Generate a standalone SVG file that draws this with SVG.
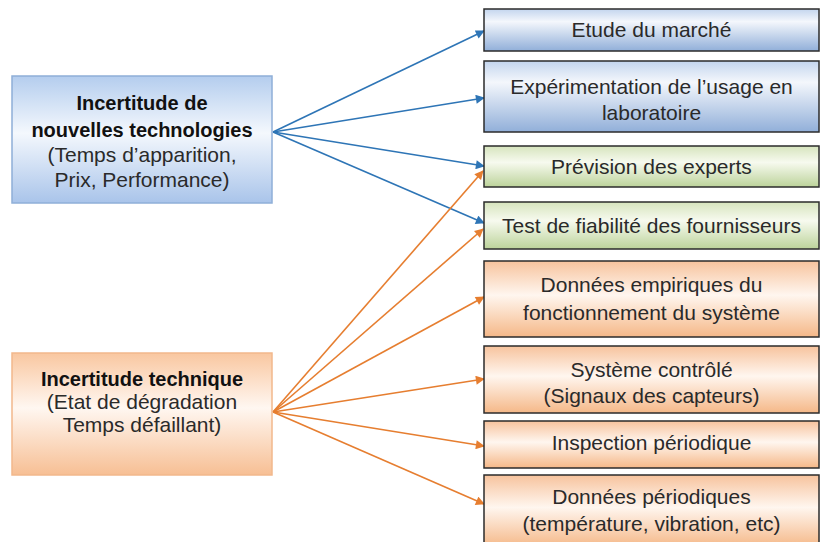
<svg xmlns="http://www.w3.org/2000/svg" width="821" height="542" viewBox="0 0 821 542">
<defs>
<style>
text{font-family:"Liberation Sans",Arial,sans-serif;font-size:21px;fill:#2a2a2a;text-anchor:middle}
.b{font-weight:bold;font-size:20px;fill:#111}
.rb{stroke:#2b2b2b;stroke-width:1.5}
.cb{stroke:#2e75b6;stroke-width:1.6;fill:none}
.co{stroke:#e67e30;stroke-width:1.6;fill:none}
</style>
<linearGradient id="gBlueL" x1="0" y1="0" x2="0" y2="1">
<stop offset="0" stop-color="#b4cdee"/><stop offset="0.45" stop-color="#f4f8fd"/><stop offset="1" stop-color="#a9c4ea"/>
</linearGradient>
<linearGradient id="gOrL" x1="0" y1="0" x2="0" y2="1">
<stop offset="0" stop-color="#f9c7a0"/><stop offset="0.45" stop-color="#fff7f1"/><stop offset="1" stop-color="#f7bf94"/>
</linearGradient>
<linearGradient id="gBlue" x1="0" y1="0" x2="0" y2="1">
<stop offset="0" stop-color="#c3d5ee"/><stop offset="0.3" stop-color="#f4f7fc"/><stop offset="1" stop-color="#91afd9"/>
</linearGradient>
<linearGradient id="gGreen" x1="0" y1="0" x2="0" y2="1">
<stop offset="0" stop-color="#d6e4bd"/><stop offset="0.4" stop-color="#f7faef"/><stop offset="1" stop-color="#bcd39a"/>
</linearGradient>
<linearGradient id="gOr" x1="0" y1="0" x2="0" y2="1">
<stop offset="0" stop-color="#f7c39d"/><stop offset="0.45" stop-color="#fff6ef"/><stop offset="1" stop-color="#f5b888"/>
</linearGradient>
<marker id="aB" viewBox="0 0 10 10" refX="9" refY="5" markerWidth="10" markerHeight="9" orient="auto" markerUnits="userSpaceOnUse">
<path d="M0,0 L10,5 L0,10 z" fill="#2e75b6"/>
</marker>
<marker id="aO" viewBox="0 0 10 10" refX="9" refY="5" markerWidth="10" markerHeight="9" orient="auto" markerUnits="userSpaceOnUse">
<path d="M0,0 L10,5 L0,10 z" fill="#e67e30"/>
</marker>
</defs>
<rect width="821" height="542" fill="#ffffff"/>

<g id="connectors">
<line class="cb" x1="273" y1="132" x2="484" y2="31" marker-end="url(#aB)"/>
<line class="cb" x1="273" y1="132" x2="484" y2="98" marker-end="url(#aB)"/>
<line class="cb" x1="273" y1="132" x2="484" y2="166" marker-end="url(#aB)"/>
<line class="cb" x1="273" y1="132" x2="484" y2="223" marker-end="url(#aB)"/>
<line class="co" x1="273" y1="412" x2="483" y2="171" marker-end="url(#aO)"/>
<line class="co" x1="273" y1="412" x2="483" y2="229" marker-end="url(#aO)"/>
<line class="co" x1="273" y1="412" x2="484" y2="297" marker-end="url(#aO)"/>
<line class="co" x1="273" y1="412" x2="484" y2="379" marker-end="url(#aO)"/>
<line class="co" x1="273" y1="412" x2="484" y2="446" marker-end="url(#aO)"/>
<line class="co" x1="273" y1="412" x2="484" y2="504" marker-end="url(#aO)"/>
</g>

<g id="n-nouvelles">
<rect x="12" y="76" width="260" height="127" fill="url(#gBlueL)" stroke="#8fafd8" stroke-width="1.5"/>
<text class="b" x="142" y="110">Incertitude de</text>
<text class="b" x="142" y="137">nouvelles technologies</text>
<text x="142" y="162">(Temps d’apparition,</text>
<text x="142" y="187">Prix, Performance)</text>
</g>

<g id="n-technique">
<rect x="12" y="353" width="260" height="122" fill="url(#gOrL)" stroke="#f2b88c" stroke-width="1.5"/>
<text class="b" x="142" y="386">Incertitude technique</text>
<text x="142" y="409">(Etat de dégradation</text>
<text x="142" y="432">Temps défaillant)</text>
</g>

<g id="n-etude">
<rect class="rb" x="484" y="9" width="335" height="42" fill="url(#gBlue)"/>
<text x="651.5" y="37">Etude du marché</text>
</g>
<g id="n-experimentation">
<rect class="rb" x="484" y="61" width="335" height="71" fill="url(#gBlue)"/>
<text x="651.5" y="94">Expérimentation de l’usage en</text>
<text x="651.5" y="120">laboratoire</text>
</g>
<g id="n-prevision">
<rect class="rb" x="484" y="146" width="335" height="41" fill="url(#gGreen)"/>
<text x="651.5" y="174">Prévision des experts</text>
</g>
<g id="n-test">
<rect class="rb" x="484" y="202" width="335" height="47" fill="url(#gGreen)"/>
<text x="651.5" y="233">Test de fiabilité des fournisseurs</text>
</g>
<g id="n-donnees-empiriques">
<rect class="rb" x="484" y="261" width="335" height="76" fill="url(#gOr)"/>
<text x="651.5" y="292">Données empiriques du</text>
<text x="651.5" y="320">fonctionnement du système</text>
</g>
<g id="n-systeme">
<rect class="rb" x="484" y="346" width="335" height="67" fill="url(#gOr)"/>
<text x="651.5" y="377">Système contrôlé</text>
<text x="651.5" y="403">(Signaux des capteurs)</text>
</g>
<g id="n-inspection">
<rect class="rb" x="484" y="421" width="335" height="47" fill="url(#gOr)"/>
<text x="651.5" y="450">Inspection périodique</text>
</g>
<g id="n-donnees-periodiques">
<rect class="rb" x="484" y="475" width="335" height="72" fill="url(#gOr)"/>
<text x="651.5" y="504">Données périodiques</text>
<text x="651.5" y="531">(température, vibration, etc)</text>
</g>
</svg>
